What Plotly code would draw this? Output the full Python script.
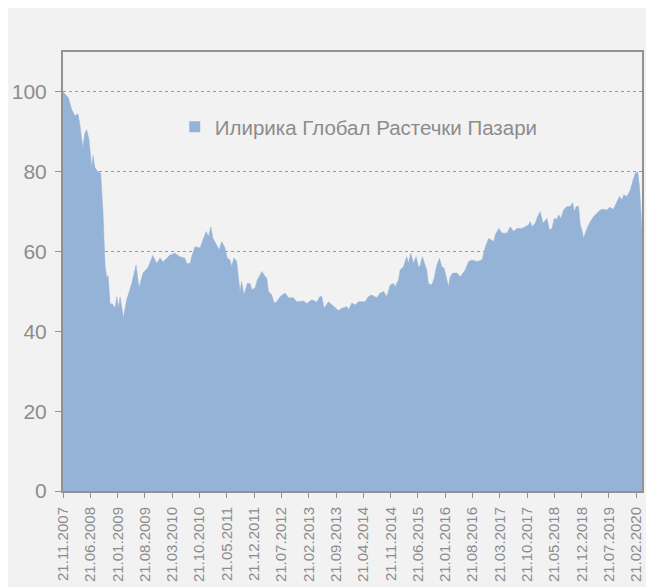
import plotly.graph_objects as go

SERIES_NAME = "Илирика Глобал Растечки Пазари"

dates = [
    "2007-11-21", "2008-01-01", "2008-01-28", "2008-02-23", "2008-03-17", "2008-04-01",
    "2008-04-23", "2008-05-10", "2008-05-24", "2008-06-11", "2008-07-02", "2008-07-12",
    "2008-07-27", "2008-08-20", "2008-09-10", "2008-09-28", "2008-10-14", "2008-10-27",
    "2008-11-07", "2008-11-23", "2008-12-06", "2009-01-01", "2009-01-14", "2009-01-27",
    "2009-02-09", "2009-03-06", "2009-04-01", "2009-05-10", "2009-06-13", "2009-07-06",
    "2009-08-06", "2009-09-15", "2009-10-21", "2009-11-22", "2009-12-17", "2010-01-10",
    "2010-03-04", "2010-04-12", "2010-05-21", "2010-06-30", "2010-07-13", "2010-08-08",
    "2010-08-21", "2010-09-16", "2010-10-25", "2010-11-18", "2010-12-12", "2010-12-30",
    "2011-01-18", "2011-02-02", "2011-03-05", "2011-03-24", "2011-04-12", "2011-05-08",
    "2011-05-25", "2011-06-16", "2011-06-29", "2011-07-17", "2011-08-07", "2011-08-20",
    "2011-09-02", "2011-09-15", "2011-10-03", "2011-10-29", "2011-11-20", "2011-12-03",
    "2011-12-29", "2012-01-16", "2012-02-20", "2012-03-16", "2012-03-29", "2012-04-11",
    "2012-05-07", "2012-05-25", "2012-06-15", "2012-07-11", "2012-08-19", "2012-09-14",
    "2012-10-23", "2012-11-19", "2013-01-10", "2013-02-05", "2013-03-16", "2013-04-23",
    "2013-05-19", "2013-06-01", "2013-06-20", "2013-07-23", "2013-08-19", "2013-09-14",
    "2013-10-10", "2013-11-05", "2013-12-14", "2013-12-27", "2014-01-22", "2014-02-17",
    "2014-03-14", "2014-05-05", "2014-05-31", "2014-06-26", "2014-08-05", "2014-08-31",
    "2014-09-26", "2014-10-22", "2014-11-17", "2014-12-13", "2014-12-26", "2015-01-21",
    "2015-02-03", "2015-03-01", "2015-03-26", "2015-04-08", "2015-04-27", "2015-05-17",
    "2015-06-07", "2015-06-25", "2015-07-08", "2015-07-26", "2015-08-16", "2015-08-29",
    "2015-09-11", "2015-10-08", "2015-10-26", "2015-11-16", "2015-12-07", "2015-12-25",
    "2016-01-12", "2016-01-28", "2016-02-15", "2016-02-28", "2016-03-20", "2016-04-21",
    "2016-05-17", "2016-06-25", "2016-07-21", "2016-08-17", "2016-09-25", "2016-11-03",
    "2016-11-29", "2016-12-24", "2017-02-02", "2017-02-15", "2017-03-13", "2017-04-08",
    "2017-05-17", "2017-06-11", "2017-07-07", "2017-08-02", "2017-09-10", "2017-10-06",
    "2017-11-01", "2017-11-14", "2017-11-27", "2017-12-23", "2018-01-10", "2018-01-31",
    "2018-02-21", "2018-03-24", "2018-04-13", "2018-05-02", "2018-05-20", "2018-06-10",
    "2018-06-23", "2018-07-11", "2018-08-01", "2018-08-27", "2018-09-22", "2018-10-10",
    "2018-10-23", "2018-11-08", "2018-11-26", "2018-12-09", "2018-12-22", "2019-01-04",
    "2019-01-31", "2019-02-26", "2019-03-22", "2019-04-18", "2019-05-14", "2019-06-09",
    "2019-07-05", "2019-07-25", "2019-08-26", "2019-09-16", "2019-10-12", "2019-10-31",
    "2019-11-13", "2019-12-09", "2020-01-04", "2020-01-25", "2020-02-12", "2020-03-01",
    "2020-03-14", "2020-03-27", "2020-04-04",
]

values = [
    100.0, 98.6, 95.5, 94.0, 94.5, 91.7,
    86.0, 89.7, 90.5, 88.0, 81.0, 84.0,
    81.0, 80.0, 79.7, 70.0, 56.6, 53.4,
    54.0, 46.6, 47.0, 45.9, 48.6, 46.0,
    48.6, 43.4, 47.9, 52.0, 56.6, 50.9,
    54.6, 56.0, 59.0, 57.0, 58.4, 57.4,
    59.1, 59.6, 58.7, 58.3, 57.0, 57.0,
    58.7, 61.2, 60.9, 62.9, 65.0, 63.7,
    66.2, 63.4, 61.6, 60.4, 62.5, 60.9,
    58.4, 57.9, 56.2, 58.4, 57.5, 52.9,
    50.0, 52.5, 49.1, 52.0, 52.0, 50.4,
    50.9, 52.9, 55.0, 53.7, 53.4, 50.0,
    49.1, 47.1, 47.4, 48.7, 49.6, 48.4,
    48.4, 47.4, 47.6, 47.0, 47.9, 47.3,
    48.8, 48.7, 45.8, 47.4, 46.6, 45.8,
    45.2, 45.8, 46.2, 45.4, 47.1, 46.6,
    47.4, 47.4, 48.7, 49.1, 48.4, 49.6,
    50.0, 48.7, 51.6, 52.0, 51.2, 52.9,
    55.4, 56.2, 58.7, 57.0, 59.6, 57.0,
    58.7, 56.2, 56.4, 58.7, 56.6, 55.4,
    52.0, 51.6, 53.3, 56.6, 58.3, 56.2,
    55.8, 53.3, 51.2, 53.7, 54.6, 54.6,
    53.7, 55.4, 57.5, 57.9, 57.5, 57.9,
    61.2, 63.3, 62.5, 64.2, 65.8, 64.6,
    64.6, 66.2, 65.0, 65.8, 65.8, 66.2,
    66.7, 67.5, 66.2, 67.1, 68.7, 70.0,
    67.1, 68.3, 65.4, 65.8, 68.3, 68.1,
    69.2, 68.3, 70.4, 71.3, 71.3, 72.3,
    70.0, 71.3, 71.3, 66.7, 65.4, 63.3,
    65.8, 67.5, 68.7, 69.6, 70.4, 70.6,
    70.4, 71.1, 70.6, 72.1, 73.8, 72.9,
    74.2, 73.8, 75.4, 77.9, 79.6, 80.0,
    76.7, 70.0, 65.0,
]

tick_dates = [
    "2007-11-21", "2008-06-21", "2009-01-21", "2009-08-21", "2010-03-21", "2010-10-21",
    "2011-05-21", "2011-12-21", "2012-07-21", "2013-02-21", "2013-09-21", "2014-04-21",
    "2014-11-21", "2015-06-21", "2016-01-21", "2016-08-21", "2017-03-21", "2017-10-21",
    "2018-05-21", "2018-12-21", "2019-07-21", "2020-02-21",
]
tick_labels = ["%s.%s.%s" % (d[8:10], d[5:7], d[0:4]) for d in tick_dates]

y_ticks = [0, 20, 40, 60, 80, 100]

AREA = "#95b3d7"
GRAY = "#8c8c8c"
AXIS = "#929292"
BG = "#f2f2f2"
FONT = "Liberation Sans, Arial, sans-serif"

fig = go.Figure()
fig.add_trace(go.Scatter(
    x=dates, y=values, mode="lines", fill="tozeroy",
    fillcolor=AREA, line=dict(color=AREA, width=0.5),
    showlegend=False, hoverinfo="x+y",
))
fig.add_trace(go.Scatter(
    x=[None], y=[None], mode="markers", name=SERIES_NAME,
    marker=dict(symbol="square", size=11, color=AREA),
))

# chart-area background (white frame on top/left as in the original image)
fig.add_shape(type="rect", xref="paper", yref="paper",
              x0=-55 / 579, x1=1 + 4 / 579, y0=-96 / 439, y1=1 + 44 / 439,
              fillcolor=BG, line=dict(width=0), layer="below")

fig.update_layout(
    width=646, height=587,
    margin=dict(l=63, r=4, t=52, b=96, autoexpand=False),
    paper_bgcolor="#ffffff", plot_bgcolor=BG,
    font=dict(family=FONT, color=GRAY),
    legend=dict(
        x=0.193, y=0.875, xanchor="left", yanchor="top",
        bgcolor="rgba(0,0,0,0)", font=dict(size=20.5, color=GRAY),
        itemwidth=30,
    ),
    xaxis=dict(
        type="date", range=[dates[0], dates[-1]],
        tickmode="array", tickvals=tick_dates, ticktext=tick_labels,
        tickangle=-90, tickfont=dict(size=15, color=GRAY),
        ticks="outside", ticklen=5, tickwidth=1, tickcolor=AXIS,
        ticklabelstandoff=3, automargin=False,
        showline=True, linecolor=AXIS, linewidth=2, mirror=True,
        showgrid=False, zeroline=False,
    ),
    yaxis=dict(
        range=[0, 110], tickmode="array", tickvals=y_ticks,
        tickfont=dict(size=21, color=GRAY),
        ticks="outside", ticklen=6, tickwidth=1, tickcolor=AXIS,
        ticklabelstandoff=4, automargin=False,
        showline=True, linecolor=AXIS, linewidth=2, mirror=True,
        showgrid=True, gridcolor="#9a9a9a", griddash="dot", gridwidth=1,
        zeroline=False,
    ),
)

fig.write_html(
    "out.html",
    config={"displayModeBar": False},
    post_script="document.body.style.margin='0';"
                "document.documentElement.style.overflow='hidden';"
                "document.body.style.overflow='hidden';",
)
